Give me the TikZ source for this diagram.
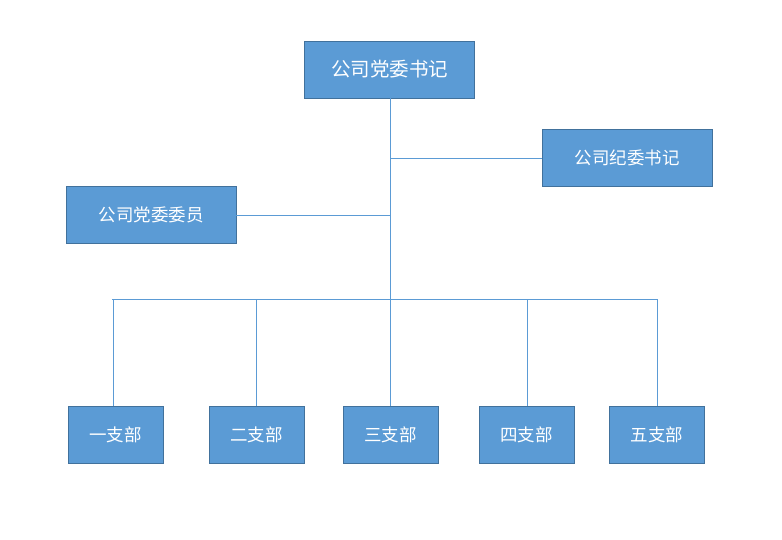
\documentclass[tikz,border=0pt]{standalone}
\usepackage{fontspec}
\setmainfont{Noto Sans CJK SC}
\definecolor{boxfill}{HTML}{5B9BD5}
\definecolor{boxline}{HTML}{41719C}
\definecolor{conn}{HTML}{5B9BD5}
\begin{document}
\begin{tikzpicture}[x=1pt,y=-1pt,
  box/.style={draw=boxline,line width=0.9pt,fill=boxfill,text=white,inner sep=0pt,font=\fontsize{17.5}{20}\selectfont},
  bigbox/.style={box,minimum width=170pt,minimum height=57pt},
  smallbox/.style={box,minimum width=95pt,minimum height=57pt},
  link/.style={draw=conn,line width=0.9pt}]
\useasboundingbox (0,0) rectangle (782,540);
\node[bigbox,font=\fontsize{19.5}{22}\selectfont] (top) at (389.5,69.5) {公司党委书记};
\node[bigbox] (jw) at (627,157.5) {公司纪委书记};
\node[bigbox] (wy) at (151,214.5) {公司党委委员};
\node[smallbox] (b1) at (115.5,434.5) {一支部};
\node[smallbox] (b2) at (256.5,434.5) {二支部};
\node[smallbox] (b3) at (390.5,434.5) {三支部};
\node[smallbox] (b4) at (526.5,434.5) {四支部};
\node[smallbox] (b5) at (657,434.5) {五支部};
\coordinate (hub) at (390,299);
\coordinate (jr) at (390,158);
\coordinate (jl) at (390,215);
\coordinate (c1) at (113,299);
\coordinate (c2) at (256,299);
\coordinate (c4) at (527,299);
\coordinate (c5) at (657,299);
\coordinate (lend) at (112,299);
\draw[link] (top.south -| hub) -- (hub);
\draw[link] (jr) -- (jw.west |- jr);
\draw[link] (jl) -- (wy.east |- jl);
\draw[link] (lend) -- (c5);
\draw[link] (c1) -- (c1 |- b1.north);
\draw[link] (c2) -- (c2 |- b2.north);
\draw[link] (hub) -- (hub |- b3.north);
\draw[link] (c4) -- (c4 |- b4.north);
\draw[link] (c5) -- (c5 |- b5.north);
\end{tikzpicture}
\end{document}
